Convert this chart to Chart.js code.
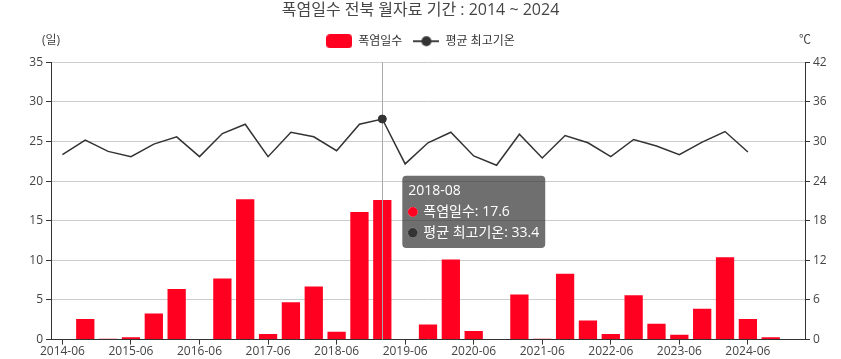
<!DOCTYPE html>
<html>
<head>
<meta charset="utf-8">
<script src="https://cdn.jsdelivr.net/npm/chart.js@4/dist/chart.umd.min.js"></script>
<style>
  html, body { margin: 0; padding: 0; background: #fff; }
  .chart-container { width: 841px; height: 359px; }
</style>
</head>
<body>
<div class="chart-container"><canvas id="chart"></canvas></div>
<script>
// data
const months = [
  '2014-06', '2014-07', '2014-08', '2015-06', '2015-07', '2015-08',
  '2016-06', '2016-07', '2016-08', '2017-06', '2017-07', '2017-08',
  '2018-06', '2018-07', '2018-08', '2019-06', '2019-07', '2019-08',
  '2020-06', '2020-07', '2020-08', '2021-06', '2021-07', '2021-08',
  '2022-06', '2022-07', '2022-08', '2023-06', '2023-07', '2023-08',
  '2024-06', '2024-07', '2024-08'
];
const heatDays = [
  0, 2.6, 0.1, 0.3, 3.3, 6.4, 0, 7.7, 17.7, 0.7, 4.7, 6.7,
  1.0, 16.1, 17.6, 0, 1.9, 10.1, 1.1, 0, 5.7, 0.1, 8.3, 2.4,
  0.7, 5.6, 2.0, 0.6, 3.9, 10.4, 2.6, 0.3, 0
];
const maxTemp = [
  28.0, 30.2, 28.5, 27.7, 29.6, 30.7, 27.7, 31.2, 32.6, 27.7, 31.4, 30.7,
  28.6, 32.6, 33.4, 26.6, 29.8, 31.4, 27.8, 26.4, 31.1, 27.5, 30.9, 29.8,
  27.7, 30.3, 29.3, 28.0, 29.9, 31.5, 28.4, null, null
];
const dayTicks = { min: 0, max: 35, step: 5 };
const tempTicks = { min: 0, max: 42, step: 6 };
const activeIndex = months.indexOf('2018-08');

const BAR_COLOR = '#ff0020';
const LINE_COLOR = '#333333';
const FONT = "'Open Sans', 'Noto Sans CJK KR', sans-serif";

// legend icons (box for bars, line with dot for the line)
function legendIcon(kind) {
  const c = document.createElement('canvas');
  c.width = 26;
  c.height = 14;
  const g = c.getContext('2d');
  if (kind === 'bar') {
    g.fillStyle = BAR_COLOR;
    g.beginPath();
    g.roundRect(0, 0, 26, 14, 4);
    g.fill();
  } else {
    g.strokeStyle = '#444';
    g.lineWidth = 2;
    g.beginPath();
    g.moveTo(0, 7);
    g.lineTo(26, 7);
    g.stroke();
    g.fillStyle = LINE_COLOR;
    g.beginPath();
    g.arc(13, 7, 5, 0, Math.PI * 2);
    g.fill();
  }
  return c;
}
const legendIcons = [legendIcon('bar'), legendIcon('line')];

Chart.Tooltip.positioners.side = function (elements) {
  if (!elements.length) return false;
  const area = this.chart.chartArea;
  return { x: elements[0].element.x, y: (area.top + area.bottom) / 2 + 11, xAlign: 'left', yAlign: 'center' };
};

// a bit more room under the legend, for the unit labels
const legendGap = {
  id: 'legendGap',
  beforeUpdate(chart) {
    const legend = chart.legend;
    if (!legend || legend._gapPatched) return;
    const fit = legend.fit;
    legend.fit = function () {
      fit.call(this);
      this.height += 5;
    };
    legend._gapPatched = true;
  }
};

// vertical pointer line, drawn over the bars but under the line
const pointerLine = {
  id: 'pointerLine',
  afterDatasetDraw(chart, args) {
    if (args.index !== 0) return;
    const active = chart.getActiveElements();
    if (!active.length) return;
    const x = active[0].element.x;
    const { top, bottom } = chart.chartArea;
    const ctx = chart.ctx;
    ctx.save();
    ctx.strokeStyle = '#aaaaaa';
    ctx.lineWidth = 1;
    ctx.beginPath();
    ctx.moveTo(Math.round(x) + 0.5, top);
    ctx.lineTo(Math.round(x) + 0.5, bottom);
    ctx.stroke();
    ctx.restore();
  }
};

// unit labels above the two y axes
const unitLabels = {
  id: 'unitLabels',
  afterDraw(chart) {
    const ctx = chart.ctx;
    const y = chart.chartArea.top - 22;
    ctx.save();
    ctx.font = '12px ' + FONT;
    ctx.fillStyle = '#444';
    ctx.textAlign = 'center';
    ctx.textBaseline = 'middle';
    ctx.fillText('(일)', chart.scales.yDays.right, y);
    ctx.fillText('℃', chart.scales.yTemp.left, y);
    ctx.restore();
  }
};

const ctx = document.getElementById('chart').getContext('2d');
const chart = new Chart(ctx, {
  type: 'bar',
  data: {
    labels: months,
    datasets: [
      {
        type: 'bar',
        label: '폭염일수',
        data: heatDays,
        yAxisID: 'yDays',
        backgroundColor: BAR_COLOR,
        hoverBackgroundColor: BAR_COLOR,
        borderWidth: 0,
        barPercentage: 1.0,
        categoryPercentage: 0.8,
        order: 1
      },
      {
        type: 'line',
        label: '평균 최고기온',
        data: maxTemp,
        yAxisID: 'yTemp',
        borderColor: LINE_COLOR,
        backgroundColor: LINE_COLOR,
        borderWidth: 1.5,
        tension: 0,
        pointRadius: 0,
        pointHoverRadius: 4,
        pointHoverBorderWidth: 1,
        pointHoverBackgroundColor: LINE_COLOR,
        pointHoverBorderColor: LINE_COLOR,
        order: 0
      }
    ]
  },
  options: {
    responsive: true,
    maintainAspectRatio: false,
    animation: false,
    interaction: { mode: 'index', intersect: false },
    layout: { padding: { left: 0, right: 0, top: 0, bottom: 0 } },
    plugins: {
      title: {
        display: true,
        text: '폭염일수 전북 월자료 기간 : 2014 ~ 2024',
        color: '#464646',
        font: { family: FONT, size: 16, weight: 'normal' },
        padding: { top: 1, bottom: 4 }
      },
      legend: {
        position: 'top',
        labels: {
          color: '#333',
          font: { family: FONT, size: 12 },
          usePointStyle: true,
          pointStyleWidth: 26,
          boxHeight: 14,
          padding: 11,
          generateLabels(chart) {
            return chart.data.datasets.map((ds, i) => ({
              text: ds.label,
              datasetIndex: i,
              pointStyle: legendIcons[i],
              fillStyle: ds.backgroundColor,
              strokeStyle: ds.borderColor,
              lineWidth: 0,
              fontColor: '#333',
              hidden: !chart.isDatasetVisible(i)
            }));
          }
        }
      },
      tooltip: {
        position: 'side',
        xAlign: 'left',
        yAlign: 'center',
        caretSize: 0,
        caretPadding: 20,
        backgroundColor: 'rgba(50,50,50,0.7)',
        cornerRadius: 4,
        padding: { top: 7, bottom: 7, left: 6, right: 6 },
        titleColor: '#fff',
        bodyColor: '#fff',
        titleFont: { family: FONT, size: 14, weight: 'normal' },
        bodyFont: { family: FONT, size: 14 },
        titleMarginBottom: 4,
        bodySpacing: 4,
        usePointStyle: true,
        boxWidth: 9,
        boxHeight: 9,
        boxPadding: 4,
        callbacks: {
          labelPointStyle() {
            return { pointStyle: 'circle', rotation: 0 };
          },
          labelColor(item) {
            const c = item.datasetIndex === 0 ? BAR_COLOR : LINE_COLOR;
            return { borderColor: c, backgroundColor: c, borderWidth: 0 };
          }
        }
      }
    },
    scales: {
      x: {
        offset: true,
        grid: {
          drawOnChartArea: false,
          offset: false,
          tickLength: 5,
          tickColor: '#333'
        },
        border: { color: '#333' },
        ticks: {
          autoSkip: false,
          maxRotation: 0,
          color: '#444',
          font: { family: FONT, size: 12 },
          padding: 0,
          callback(value, index) {
            return index % 3 === 0 ? months[index] : null;
          }
        }
      },
      yDays: {
        position: 'left',
        min: dayTicks.min,
        max: dayTicks.max,
        ticks: {
          stepSize: dayTicks.step,
          color: '#444',
          font: { family: FONT, size: 12 },
          padding: 3
        },
        grid: { color: '#cccccc', tickColor: '#333', tickLength: 5 },
        border: { color: '#333' },
        afterFit(scale) { scale.width = 51; }
      },
      yTemp: {
        position: 'right',
        min: tempTicks.min,
        max: tempTicks.max,
        ticks: {
          stepSize: tempTicks.step,
          color: '#444',
          font: { family: FONT, size: 12 },
          padding: 3
        },
        grid: { drawOnChartArea: false, tickColor: '#333', tickLength: 5 },
        border: { color: '#333' },
        afterFit(scale) { scale.width = 36; }
      }
    }
  },
  plugins: [legendGap, pointerLine, unitLabels]
});

const active = [
  { datasetIndex: 0, index: activeIndex },
  { datasetIndex: 1, index: activeIndex }
];
chart.setActiveElements(active);
chart.tooltip.setActiveElements(active, { x: 0, y: 0 });
chart.update();
</script>
</body>
</html>
